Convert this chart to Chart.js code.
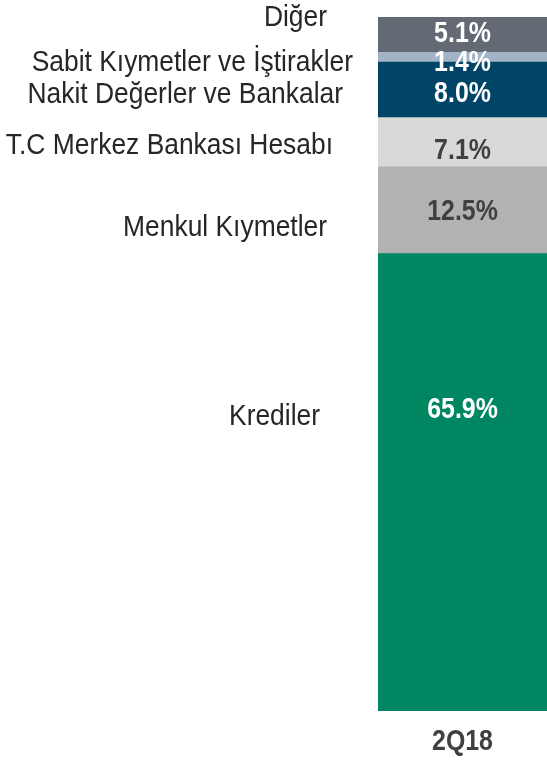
<!DOCTYPE html>
<html>
<head>
<meta charset="utf-8">
<style>
  html, body { margin: 0; padding: 0; background: #fff; }
  .wrap { width: 547px; height: 761px; position: relative; }
</style>
<script src="https://cdn.jsdelivr.net/npm/chart.js@4"></script>
</head>
<body>
<div class="wrap"><canvas id="chart" width="547" height="761"></canvas></div>
<script>
// data, bottom segment first
var categories = ['2Q18'];
var segmentNames = ['Krediler', 'Menkul Kıymetler', 'T.C Merkez Bankası Hesabı', 'Nakit Değerler ve Bankalar', 'Sabit Kıymetler ve İştirakler', 'Diğer'];
var segmentValues = [65.9, 12.5, 7.1, 8.0, 1.4, 5.1];

// styles
var segmentColors = ['#008762', '#b2b2b2', '#d9d9d9', '#004468', '#a2b3c5', '#636a73'];
var valueColors = ['#ffffff', '#404040', '#404040', '#ffffff', '#ffffff', '#ffffff'];
var valueDy = [-73, 1, 8, 4, 5.5, -0.5];
var nameDy = [-66, 17, 3, 5, 5.5, -16.5];
var nameGap = [58, 51, 45, 35, 25, 51];

// no narrow font installed, so squeeze the text horizontally
var FONT = '"Liberation Sans", Arial, sans-serif';
var NAME_SX = 0.88;
var BOLD_SX = 0.83;

function squeezedText(ctx, text, x, y, sx) {
  ctx.save();
  ctx.translate(x, y);
  ctx.scale(sx, 1);
  ctx.fillText(text, 0, 0);
  ctx.restore();
}

var labelPlugin = {
  id: 'segLabels',
  afterDatasetsDraw: function(chart) {
    var ctx = chart.ctx;
    ctx.save();
    ctx.textBaseline = 'middle';
    chart.data.datasets.forEach(function(ds, i) {
      var bar = chart.getDatasetMeta(i).data[0];
      var mid = (bar.y + bar.base) / 2;
      var left = bar.x - bar.width / 2;
      ctx.font = 'bold 30px ' + FONT;
      ctx.fillStyle = valueColors[i];
      ctx.textAlign = 'center';
      squeezedText(ctx, ds.data[0].toFixed(1) + '%', bar.x, mid + valueDy[i], BOLD_SX);
      ctx.font = '30px ' + FONT;
      ctx.fillStyle = '#262626';
      ctx.textAlign = 'right';
      squeezedText(ctx, ds.label, left - nameGap[i], mid + nameDy[i], NAME_SX);
    });
    // category labels under the bar, placed by the x scale
    var xs = chart.scales.x;
    ctx.font = 'bold 30px ' + FONT;
    ctx.fillStyle = '#404040';
    ctx.textAlign = 'center';
    chart.data.labels.forEach(function(lab, j) {
      squeezedText(ctx, lab, xs.getPixelForTick(j), xs.top + 31, BOLD_SX);
    });
    ctx.restore();
  }
};

new Chart(document.getElementById('chart'), {
  type: 'bar',
  data: {
    labels: categories,
    datasets: segmentNames.map(function(name, i) {
      return {
        label: name,
        data: [segmentValues[i]],
        backgroundColor: segmentColors[i],
        borderWidth: 0,
        barPercentage: 1,
        categoryPercentage: 1
      };
    })
  },
  options: {
    responsive: false,
    animation: false,
    layout: { padding: { left: 378, top: 17, right: 0, bottom: 0 } },
    plugins: { legend: { display: false }, tooltip: { enabled: false } },
    scales: {
      x: {
        stacked: true,
        grid: { display: false, drawTicks: false },
        border: { display: false },
        ticks: { display: false },
        afterFit: function(s) { s.height = 50; }
      },
      y: { stacked: true, display: false, min: 0, max: 100 }
    }
  },
  plugins: [labelPlugin]
});
</script>
</body>
</html>
